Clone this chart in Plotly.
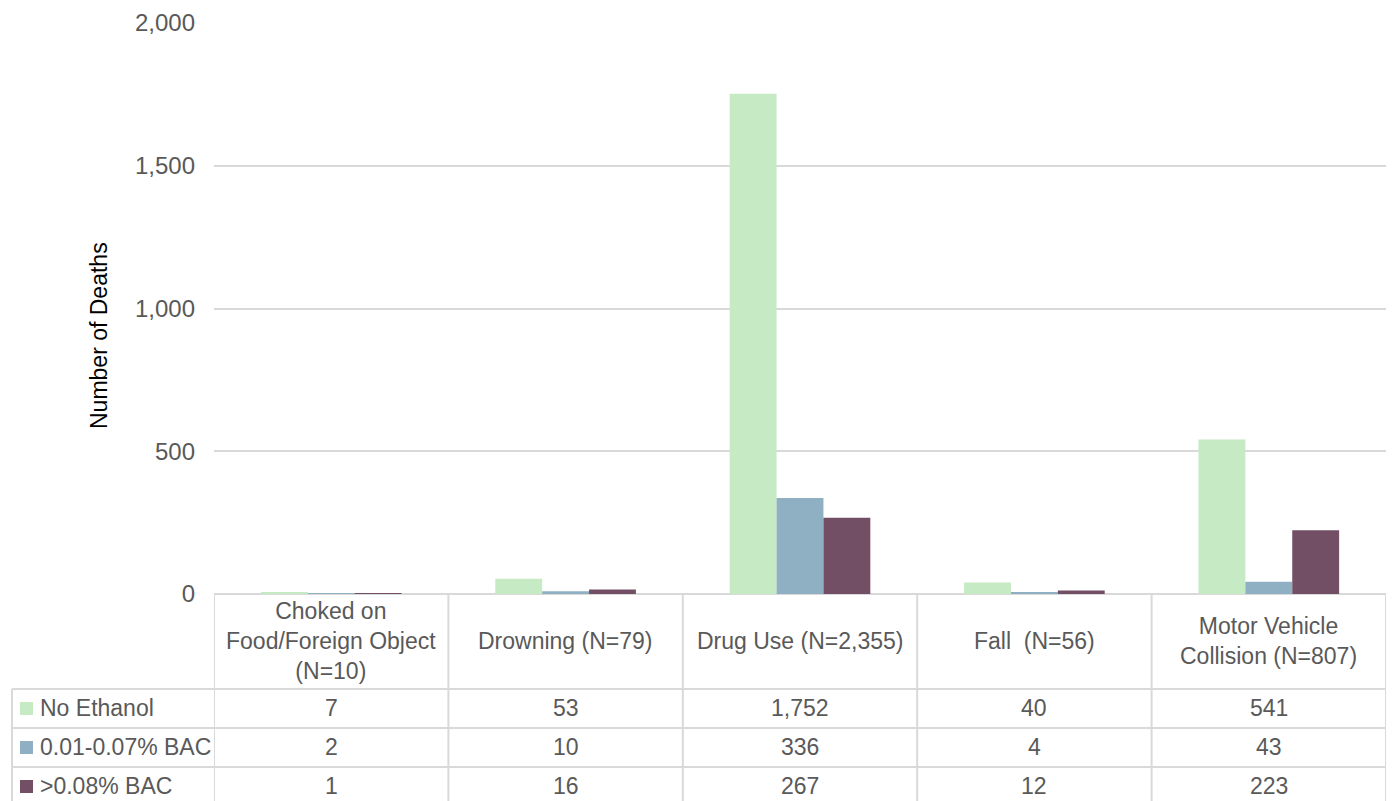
import plotly.graph_objects as go

# Accidental deaths by cause and blood alcohol level
categories = [
    "Choked on<br>Food/Foreign Object<br>(N=10)",
    "Drowning (N=79)",
    "Drug Use (N=2,355)",
    "Fall  (N=56)",
    "Motor Vehicle<br>Collision (N=807)",
]
series_names = ["No Ethanol", "0.01-0.07% BAC", ">0.08% BAC"]
no_ethanol = [7, 53, 1752, 40, 541]
bac_low = [2, 10, 336, 4, 43]
bac_high = [1, 16, 267, 12, 223]
y_ticks = [0, 500, 1000, 1500, 2000]

colors = ["#c6eac4", "#8fb0c3", "#734f66"]
series_values = [no_ethanol, bac_low, bac_high]

W, H = 1392, 801
ML, MR, MT, MB = 214, 6, 23, 207
PW, PH = W - ML - MR, H - MT - MB

FONT = "Liberation Sans"
GRID = "#d9d9d9"
TXT = "#595959"
TABLE_SIZE = 23


def px_x(px):
    return (px - ML) / PW


def px_y(py):
    return (H - MB - py) / PH


fig = go.Figure()
x_idx = list(range(len(categories)))
for name, vals, col in zip(series_names, series_values, colors):
    fig.add_trace(go.Bar(x=x_idx, y=vals, name=name, marker=dict(color=col, line=dict(width=0))))

shapes = []
annotations = []

# data-table grid
row_tops = [689, 728, 767]
row_centers = [708, 747, 786]
for i in range(len(categories) + 1):
    shapes.append(dict(type="line", xref="x", yref="paper", x0=i - 0.5, x1=i - 0.5,
                       y0=px_y(594), y1=px_y(H + 5), line=dict(color=GRID, width=2)))
shapes.append(dict(type="line", xref="paper", yref="paper", x0=px_x(12), x1=px_x(12),
                   y0=px_y(row_tops[0]), y1=px_y(H + 5), line=dict(color=GRID, width=2)))
for py in row_tops:
    shapes.append(dict(type="line", xref="paper", yref="paper", x0=px_x(12), x1=1,
                       y0=px_y(py), y1=px_y(py), line=dict(color=GRID, width=2)))

# header row: category names
for i, cat in enumerate(categories):
    annotations.append(dict(x=i, y=px_y(641), xref="x", yref="paper", text=cat,
                            showarrow=False, xanchor="center", yanchor="middle",
                            font=dict(family=FONT, size=TABLE_SIZE, color=TXT)))

# value rows with legend keys
for r, (name, vals, col) in enumerate(zip(series_names, series_values, colors)):
    cy = row_centers[r]
    shapes.append(dict(type="rect", xref="paper", yref="paper",
                       x0=px_x(20), x1=px_x(33), y0=px_y(cy + 7), y1=px_y(cy - 6),
                       fillcolor=col, line=dict(width=0)))
    annotations.append(dict(x=px_x(38), y=px_y(cy), xref="paper", yref="paper", text=name,
                            showarrow=False, xanchor="left", yanchor="middle",
                            font=dict(family=FONT, size=TABLE_SIZE, color=TXT)))
    for i, v in enumerate(vals):
        annotations.append(dict(x=i, y=px_y(cy), xref="x", yref="paper", text=f"{v:,}",
                                showarrow=False, xanchor="center", yanchor="middle",
                                font=dict(family=FONT, size=TABLE_SIZE, color=TXT)))

# vertical axis title
annotations.append(dict(x=px_x(99), y=px_y(336), xref="paper", yref="paper",
                        text="Number of Deaths", textangle=-90, showarrow=False,
                        xanchor="center", yanchor="middle",
                        font=dict(family=FONT, size=23, color="black")))

fig.update_layout(
    width=W, height=H,
    margin=dict(l=ML, r=MR, t=MT, b=MB),
    paper_bgcolor="white", plot_bgcolor="white",
    barmode="group", bargap=0.4, bargroupgap=0,
    showlegend=False,
    shapes=shapes, annotations=annotations,
    font=dict(family=FONT, size=TABLE_SIZE, color=TXT),
)
fig.update_xaxes(range=[-0.5, len(categories) - 0.5], showticklabels=False,
                 showgrid=False, zeroline=False, showline=False, ticks="")
fig.update_yaxes(range=[0, 2000], tickvals=y_ticks, tickformat=",",
                 showgrid=True, gridcolor=GRID, gridwidth=2, zeroline=True,
                 zerolinecolor=GRID, zerolinewidth=2, showline=False, ticks="",
                 ticklabelstandoff=18,
                 tickfont=dict(family=FONT, size=24, color=TXT))

fig.write_html("out.html")
